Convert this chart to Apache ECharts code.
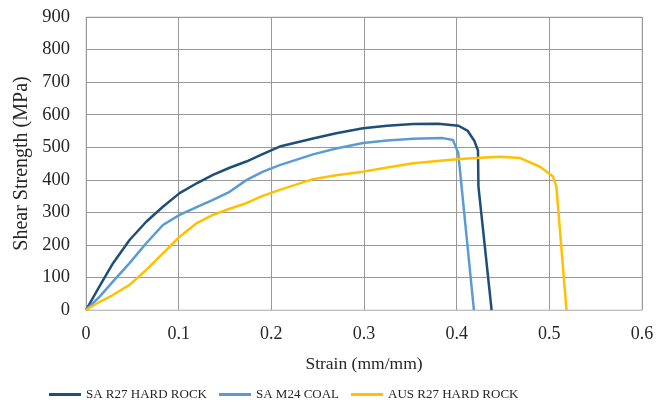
<!DOCTYPE html>
<html>
<head>
<meta charset="utf-8">
<script src="https://cdn.jsdelivr.net/npm/echarts@6/dist/echarts.min.js"></script>
<style>
  html, body { margin: 0; padding: 0; background: #fff; }
  #chart { width: 656px; height: 403px; }
</style>
</head>
<body>
<div id="chart"></div>
<script>
const seriesNames = ['SA R27 HARD ROCK', 'SA M24 COAL', 'AUS R27 HARD ROCK'];

const strainDark = [0, 0.015, 0.029, 0.047, 0.065, 0.083, 0.101, 0.12, 0.137, 0.155, 0.173, 0.19, 0.209, 0.245, 0.27, 0.299, 0.325, 0.353, 0.380, 0.402, 0.412, 0.419, 0.423, 0.4235, 0.4377];
const strengthDark = [0, 75, 143, 215, 271, 317, 359, 390, 415, 437, 456, 478, 502, 527, 543, 558, 566, 571, 572, 566, 550, 520, 490, 379, 0];

const strainLight = [0, 0.015, 0.029, 0.047, 0.065, 0.083, 0.101, 0.12, 0.137, 0.155, 0.173, 0.191, 0.209, 0.245, 0.27, 0.299, 0.325, 0.353, 0.385, 0.396, 0.4017, 0.4186];
const strengthLight = [0, 42, 87, 144, 205, 261, 292, 317, 338, 363, 399, 425, 445, 478, 496, 513, 521, 526, 528, 522, 482, 0];

const strainYellow = [0, 0.0115, 0.029, 0.047, 0.065, 0.083, 0.101, 0.119, 0.137, 0.155, 0.173, 0.19, 0.209, 0.245, 0.27, 0.299, 0.325, 0.353, 0.4, 0.425, 0.447, 0.468, 0.49, 0.504, 0.5076, 0.5185];
const strengthYellow = [0, 20, 46, 77, 123, 174, 225, 266, 292, 311, 328, 350, 369, 402, 414, 425, 438, 451, 463, 468, 471, 467, 440, 410, 379, 0];

const colors = ['#1F4E79', '#5B9BD5', '#FFC000'];

function pairs(xs, ys) {
  return xs.map((x, i) => [x, ys[i]]);
}

const font = 'Liberation Serif';
const textColor = '#262626';
const chart = echarts.init(document.getElementById('chart'));

const makeSeries = (name, data, color) => ({
  name: name,
  type: 'line',
  data: data,
  symbol: 'none',
  smooth: false,
  lineStyle: { color: color, width: 2.5, join: 'round' },
  itemStyle: { color: color }
});

chart.setOption({
  animation: false,
  grid: {
    left: 86, right: 14, top: 17, bottom: 93,
    outerBoundsMode: 'none',
    containLabel: false,
    show: true, borderColor: '#d0d0d0', borderWidth: 1
  },
  legend: {
    top: 383,
    left: 44,
    icon: 'rect',
    itemWidth: 32,
    itemHeight: 3,
    itemGap: 12,
    textStyle: { fontFamily: font, fontSize: 13, color: textColor },
    data: seriesNames
  },
  xAxis: {
    type: 'value',
    min: 0,
    max: 0.6,
    interval: 0.1,
    name: 'Strain (mm/mm)',
    nameLocation: 'middle',
    nameGap: 45,
    nameTextStyle: { fontFamily: font, fontSize: 17.5, color: textColor },
    axisLine: { show: true, lineStyle: { color: '#bfbfbf' } },
    axisTick: { show: false },
    axisLabel: { fontFamily: font, fontSize: 18, color: textColor, margin: 15 },
    splitLine: { show: true, lineStyle: { color: '#999', width: 1 } }
  },
  yAxis: {
    type: 'value',
    min: 0,
    max: 900,
    interval: 100,
    name: 'Shear Strength (MPa)',
    nameLocation: 'middle',
    nameGap: 54,
    nameTextStyle: { fontFamily: font, fontSize: 20, color: textColor },
    axisLine: { show: false },
    axisTick: { show: false },
    axisLabel: { fontFamily: font, fontSize: 18.5, color: textColor, margin: 16 },
    splitLine: { show: true, lineStyle: { color: '#999', width: 1 } }
  },
  series: [
    makeSeries(seriesNames[0], pairs(strainDark, strengthDark), colors[0]),
    makeSeries(seriesNames[1], pairs(strainLight, strengthLight), colors[1]),
    makeSeries(seriesNames[2], pairs(strainYellow, strengthYellow), colors[2])
  ]
});
</script>
</body>
</html>
